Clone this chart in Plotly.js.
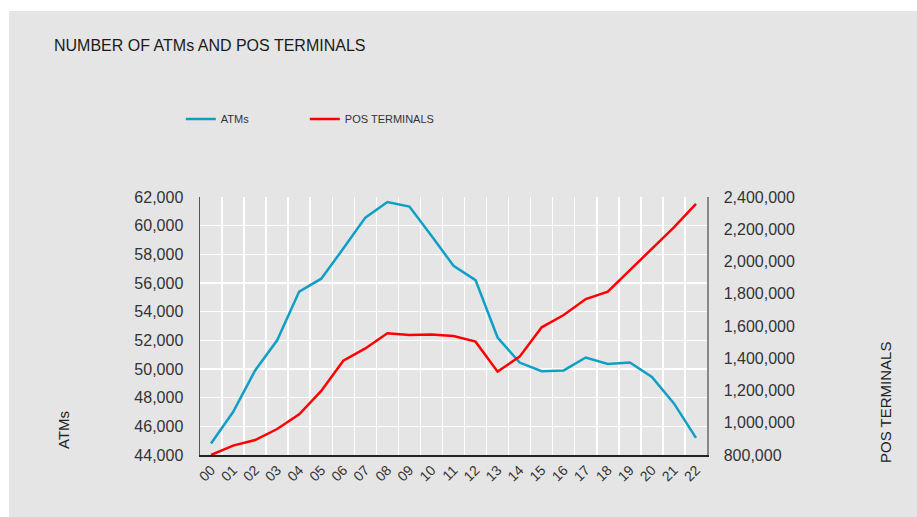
<!DOCTYPE html>
<html>
<head>
<meta charset="utf-8">
<script src="https://cdn.plot.ly/plotly-3.0.1.min.js"></script>
<style>
  html, body { margin: 0; padding: 0; background: #ffffff; width: 917px; height: 517px; overflow: hidden; }
  #chart { position: absolute; left: 9px; top: 11px; width: 908px; height: 506px; }
</style>
</head>
<body>
<div id="chart"></div>
<script>
const periods = ["00","01","02","03","04","05","06","07","08","09","10","11","12","13","14","15","16","17","18","19","20","21","22"];
const atms = [44800, 47000, 49900, 52000, 55400, 56300, 58400, 60560, 61650, 61330, 59300, 57200, 56200, 52200, 50450, 49850, 49900, 50800, 50350, 50450, 49450, 47600, 45200];
const posTerminals = [800000, 858000, 893000, 961000, 1052000, 1197000, 1385000, 1461000, 1555000, 1544000, 1548000, 1538000, 1503000, 1317000, 1410000, 1592000, 1668000, 1767000, 1813000, 1947000, 2078000, 2212000, 2357000];

const bg = '#e5e5e5';
const font = 'Liberation Sans, Arial, Helvetica, sans-serif';

const traces = [
  { x: periods, y: atms, name: 'ATMs', type: 'scatter', mode: 'lines',
    line: { color: '#0f9fc6', width: 2.5 }, yaxis: 'y', legendwidth: 79 },
  { x: periods, y: posTerminals, name: 'POS TERMINALS', type: 'scatter', mode: 'lines',
    line: { color: '#ff0000', width: 2.5 }, yaxis: 'y2' }
];

const layout = {
  width: 908, height: 506,
  paper_bgcolor: bg, plot_bgcolor: bg,
  margin: { l: 191, r: 210, t: 186, b: 62 },
  font: { family: font, color: '#222' },
  title: { text: 'NUMBER OF ATMs AND POS TERMINALS', x: 45/908, xref: 'container', xanchor: 'left',
           y: 1 - 34/506, yref: 'container', yanchor: 'middle',
           font: { family: font, size: 16, color: '#1a1a1a' } },
  showlegend: true,
  legend: { orientation: 'h', x: -0.0378, xanchor: 'left', y: 1.302, yanchor: 'middle',
            font: { family: font, size: 11, color: '#333' }, bgcolor: 'rgba(0,0,0,0)',
            itemwidth: 30 },
  xaxis: { type: 'category', range: [-0.5, 22.5], tickson: 'boundaries', showgrid: true,
           gridcolor: '#ffffff', gridwidth: 1.5, ticks: '', tickangle: -45,
           tickfont: { family: font, size: 14, color: '#333' },
           showline: true, linecolor: '#222', linewidth: 1.5, zeroline: false, fixedrange: true },
  yaxis: { range: [44000, 62000], dtick: 2000, tick0: 44000, tickformat: ',d',
           showgrid: true, gridcolor: '#ffffff', gridwidth: 1.5, zeroline: false,
           showline: true, linecolor: '#555', linewidth: 1.5, ticks: '', ticklabelstandoff: 12,
           tickfont: { family: font, size: 16, color: '#333' } },
  yaxis2: { range: [800000, 2400000], dtick: 200000, tick0: 800000, tickformat: ',d',
            overlaying: 'y', side: 'right', showgrid: false, zeroline: false,
            showline: true, linecolor: '#888', linewidth: 1.5, ticks: '', ticklabelstandoff: 12,
            tickfont: { family: font, size: 16, color: '#333' } },
  annotations: [
    { text: 'ATMs', xref: 'paper', yref: 'paper', x: (54-191)/507, y: (444-419)/258,
      textangle: -90, showarrow: false, xanchor: 'center', yanchor: 'middle',
      font: { family: font, size: 15, color: '#222' } },
    { text: 'POS TERMINALS', xref: 'paper', yref: 'paper', x: (876-191)/507, y: (444-392)/258,
      textangle: -90, showarrow: false, xanchor: 'center', yanchor: 'middle',
      font: { family: font, size: 15, color: '#222' } }
  ]
};

Plotly.newPlot('chart', traces, layout, { displayModeBar: false, staticPlot: true });
</script>
</body>
</html>
